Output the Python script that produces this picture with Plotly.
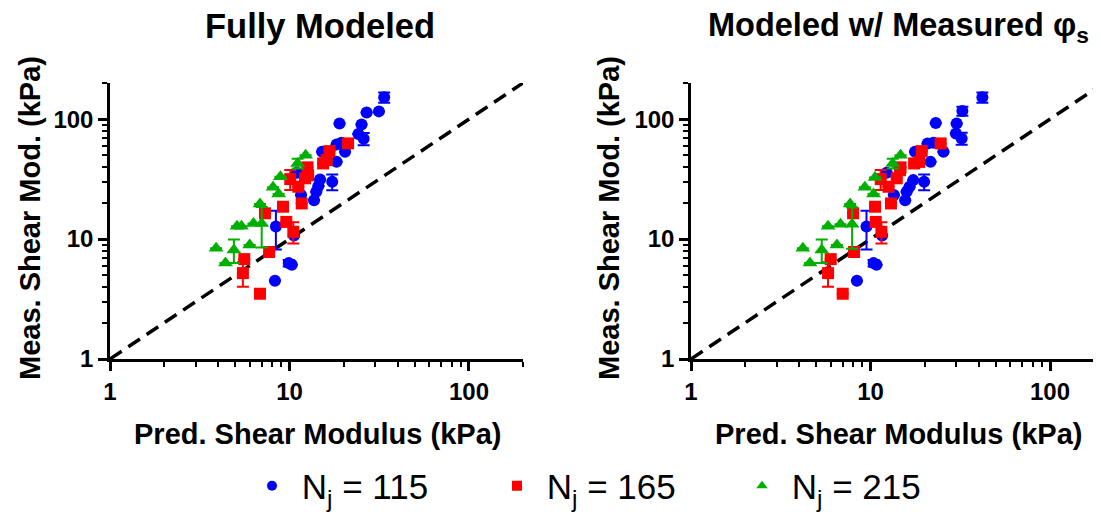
import plotly.graph_objects as go
import math

# ---------------- data: Fully Modeled (left) ----------------
L_blue_x = [33.7, 31.5, 26.9, 19.0, 25.2, 24.2, 25.9, 18.3, 19.5, 20.4, 15.2, 18.3, 11.0, 14.8, 17.3, 14.5, 14.1, 11.6, 13.7, 8.4, 10.6, 9.9, 10.3, 8.3]
L_blue_y = [152, 116, 113.7, 92, 90, 75, 68.5, 61.5, 63.5, 53.4, 53.4, 44, 35.7, 31.4, 30.0, 27.7, 24.8, 23.3, 21.1, 12.7, 10.7, 6.3, 6.1, 4.5]
L_blue_e = [15, 0, 0, 0, 0, 0, 8, 0, 0, 0, 0, 0, 0, 0, 4.5, 0, 0, 0, 0, 4.5, 0, 0.4, 0, 0]

L_red_x = [21.2, 16.7, 15.4, 16.1, 12.6, 10.1, 12.2, 11.2, 11.7, 9.2, 7.3, 9.6, 10.5, 7.7, 5.6, 5.5, 6.85, 12.7]
L_red_y = [62.7, 54.1, 42.7, 45.5, 39.6, 31.6, 32.1, 27.3, 19.8, 18.6, 16.4, 13.9, 11.5, 7.8, 6.8, 5.2, 3.5, 34]
L_red_e = [0, 0, 0, 0, 0, 6, 0, 0, 0, 0, 0, 0, 2.3, 0, 0, 1.2, 0, 0]

L_green_x = [12.3, 11.1, 8.9, 8.1, 8.7, 6.85, 6.3, 7.0, 5.1, 5.4, 6.0, 4.9, 3.9, 4.4]
L_green_y = [50, 42.7, 33, 27, 23.7, 19.6, 13.5, 13.5, 12.8, 12.8, 8.9, 8.1, 8.4, 6.3]
L_green_e = [0, 4, 0, 0, 0, 0, 0, 5, 0, 0, 0, 1.8, 0, 0]

# ---------------- data: Modeled w/ Measured phi_s (right) ----------------
R_blue_x = [42.0, 32.5, 30.2, 23.1, 29.9, 32.2, 20.8, 22.4, 25.5, 17.7, 21.6, 12.3, 17.3, 19.9, 16.5, 15.9, 13.5, 15.6, 9.5, 11.6, 10.4, 10.8, 8.4]
R_blue_y = [152, 116.6, 92, 93, 76, 69, 62.7, 63.5, 53.4, 53.4, 44, 35.7, 31, 30, 27.3, 24.8, 23.3, 21.1, 12.7, 10.7, 6.3, 6.1, 4.5]
R_blue_e = [15, 10, 0, 0, 0, 8, 0, 0, 0, 0, 0, 0, 0, 4.5, 0, 0, 0, 0, 4.5, 0, 0.4, 0, 0]

R_red_x = [24.6, 19.3, 17.5, 18.7, 14.7, 11.4, 14.0, 12.6, 13.0, 10.6, 8.0, 10.7, 11.5, 8.1, 6.0, 5.8, 7.0, 14.6]
R_red_y = [62.7, 54.1, 42.7, 44, 39.6, 31.6, 32.1, 27.3, 19.8, 18.6, 16.4, 13.9, 11.5, 7.8, 6.8, 5.2, 3.5, 37.5]
R_red_e = [0, 0, 0, 0, 0, 6, 0, 0, 0, 0, 0, 0, 2.3, 0, 0, 1.2, 0, 0]

R_green_x = [14.7, 13.3, 10.6, 9.3, 10.4, 7.7, 6.8, 7.9, 5.8, 6.5, 5.35, 4.2, 4.6]
R_green_y = [50, 42.7, 32.6, 27, 23.7, 19.6, 13.3, 13.3, 12.8, 8.9, 8.1, 8.4, 6.3]
R_green_e = [0, 4, 0, 0, 0, 0, 0, 5, 0, 0, 1.8, 0, 0]

line_xy = [1, 200]

series_names = ["\u00a0N<sub>j</sub> = 115", "\u00a0N<sub>j</sub> = 165", "\u00a0N<sub>j</sub> = 215"]
colors = ["#0000FF", "#FF0000", "#00B000"]
symbols = ["circle", "square", "triangle-up"]

FONT = "Arial, Liberation Sans, Helvetica, sans-serif"

fig = go.Figure()

def add_series(xs, ys, es, idx, xa, ya):
    fig.add_trace(go.Scatter(
        x=xs, y=ys, mode="markers", xaxis=xa, yaxis=ya, showlegend=False,
        marker=dict(symbol=symbols[idx], color=colors[idx], size=12 if idx != 2 else 13,
                    line=dict(width=0)),
        error_y=dict(type="data", array=es, visible=True, color=colors[idx],
                     thickness=2, width=6),
    ))

for xa, ya, data in [
    ("x", "y", [(L_blue_x, L_blue_y, L_blue_e), (L_red_x, L_red_y, L_red_e), (L_green_x, L_green_y, L_green_e)]),
    ("x2", "y2", [(R_blue_x, R_blue_y, R_blue_e), (R_red_x, R_red_y, R_red_e), (R_green_x, R_green_y, R_green_e)]),
]:
    fig.add_trace(go.Scatter(x=line_xy, y=line_xy, mode="lines", xaxis=xa, yaxis=ya,
                             showlegend=False,
                             line=dict(color="black", width=3.5, dash="14px,8px")))
    for i, (xs, ys, es) in enumerate(data):
        add_series(xs, ys, es, i, xa, ya)

# legend-only traces
for i in range(3):
    fig.add_trace(go.Scatter(x=[None], y=[None], mode="markers", name=series_names[i],
                             marker=dict(symbol=symbols[i], color=colors[i], size=10)))

# page body has an 8px margin: figure origin sits at (8, 8) of the screenshot
OX, OY = 8, 8
W, H = 1101 - OX, 512 - OY

def px(xpix):
    return (xpix - OX) / W

def py(ypix):
    return 1 - (ypix - OY) / H

ytop, ybot = 83, 359
ydom = [py(ybot), py(ytop)]

common_axis = dict(
    type="log", showgrid=False, zeroline=False, showline=True, linecolor="black",
    linewidth=2.5, ticks="outside", ticklen=9, tickwidth=2.5, tickcolor="black",
    dtick=1, tickfont=dict(family=FONT, size=24, color="black", weight="bold"),
    minor=dict(ticks="outside", ticklen=5, tickwidth=2, tickcolor="black", dtick="D1", showgrid=False),
)

fig.update_layout(
    width=W, height=H, paper_bgcolor="white", plot_bgcolor="white",
    margin=dict(l=0, r=0, t=0, b=0, autoexpand=False),
    font=dict(family=FONT, color="black"),
    xaxis=dict(domain=[px(110), px(523)], range=[0, math.log10(200)], anchor="y", **common_axis),
    yaxis=dict(domain=ydom, range=[0, math.log10(200)], anchor="x", **common_axis),
    xaxis2=dict(domain=[px(691), 1.0], range=[0, (1101 - 691) / 179.5], anchor="y2", **common_axis),
    yaxis2=dict(domain=ydom, range=[0, math.log10(200)], anchor="x2", **common_axis),
    legend=dict(orientation="h", x=px(252), xanchor="left", y=py(486), yanchor="middle",
                font=dict(family=FONT, size=35, color="black"), entrywidth=200,
                entrywidthmode="pixels", bgcolor="rgba(0,0,0,0)", itemwidth=30),
    showlegend=True,
)

ann_font_t = dict(family=FONT, size=34.5, color="black", weight="bold")
ann_font_t2 = dict(family=FONT, size=32.5, color="black", weight="bold")
ann_font_a = dict(family=FONT, size=29, color="black", weight="bold")
annotations = [
    dict(text="Fully Modeled", x=px(320), y=py(26), font=ann_font_t),
    dict(text="Modeled w/ Measured φ<sub>s</sub>", x=px(898), y=py(28), font=ann_font_t2),
    dict(text="Pred. Shear Modulus (kPa)", x=px(317), y=py(434), font=ann_font_a),
    dict(text="Pred. Shear Modulus (kPa)", x=px(898), y=py(434), font=ann_font_a),
    dict(text="Meas. Shear Mod. (kPa)", x=px(30), y=py(218), textangle=-90, font=ann_font_a),
    dict(text="Meas. Shear Mod. (kPa)", x=px(609), y=py(218), textangle=-90, font=ann_font_a),
]
for a in annotations:
    a.update(xref="paper", yref="paper", showarrow=False, xanchor="center", yanchor="middle")
fig.update_layout(annotations=annotations)

fig.write_html("out.html")
